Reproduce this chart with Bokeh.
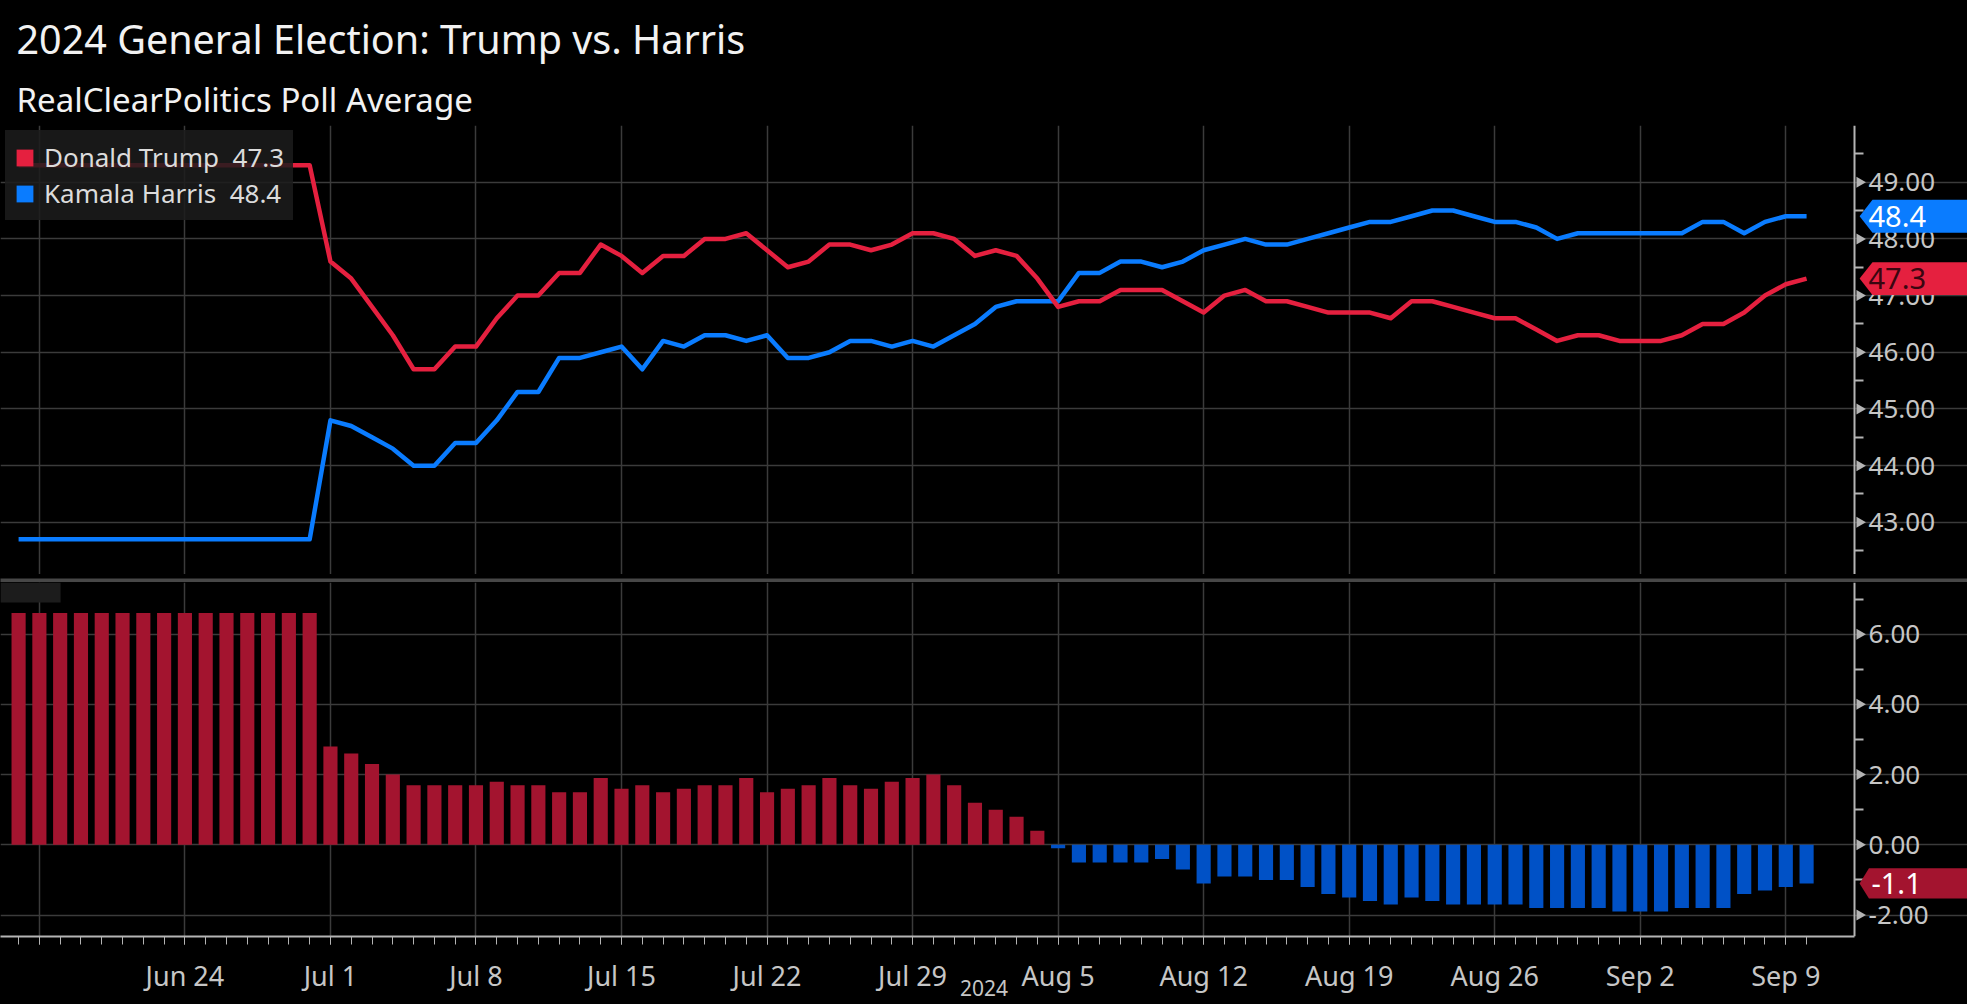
import math
import pandas as pd
from bokeh.plotting import figure
from bokeh.layouts import column
from bokeh.models import (FixedTicker, NumeralTickFormatter, Range1d, Legend, LegendItem,
                          Label, PolyAnnotation, BoxAnnotation, Title, ColumnDataSource)
from bokeh.embed import file_html
from bokeh.resources import INLINE

# ---------------- data ----------------
start_date = "2024-06-16"
end_date = "2024-09-10"
dates = pd.date_range(start_date, end_date, freq="D")

trump = ([49.3] * 15 +
         [47.6, 47.3, 46.8, 46.3, 45.7, 45.7, 46.1, 46.1, 46.6, 47.0, 47.0, 47.4, 47.4, 47.9, 47.7, 47.4,
          47.7, 47.7, 48.0, 48.0, 48.1, 47.8, 47.5, 47.6, 47.9, 47.9, 47.8, 47.9, 48.1, 48.1, 48.0] +
         [47.7, 47.8, 47.7, 47.3, 46.8, 46.9, 46.9, 47.1, 47.1, 47.1, 46.9, 46.7, 47.0, 47.1, 46.9, 46.9,
          46.8, 46.7, 46.7, 46.7, 46.6, 46.9, 46.9, 46.8, 46.7, 46.6, 46.6, 46.4, 46.2, 46.3, 46.3] +
         [46.2, 46.2, 46.2, 46.3, 46.5, 46.5, 46.7, 47.0, 47.2, 47.3])

harris = ([42.7] * 15 +
          [44.8, 44.7, 44.5, 44.3, 44.0, 44.0, 44.4, 44.4, 44.8, 45.3, 45.3, 45.9, 45.9, 46.0, 46.1, 45.7,
           46.2, 46.1, 46.3, 46.3, 46.2, 46.3, 45.9, 45.9, 46.0, 46.2, 46.2, 46.1, 46.2, 46.1, 46.3] +
          [46.5, 46.8, 46.9, 46.9, 46.9, 47.4, 47.4, 47.6, 47.6, 47.5, 47.6, 47.8, 47.9, 48.0, 47.9, 47.9,
           48.0, 48.1, 48.2, 48.3, 48.3, 48.4, 48.5, 48.5, 48.4, 48.3, 48.3, 48.2, 48.0, 48.1, 48.1] +
          [48.1, 48.1, 48.1, 48.1, 48.3, 48.3, 48.1, 48.3, 48.4, 48.4])

week_ticks = ["2024-06-17", "2024-06-24", "2024-07-01", "2024-07-08", "2024-07-15", "2024-07-22",
              "2024-07-29", "2024-08-05", "2024-08-12", "2024-08-19", "2024-08-26", "2024-09-02",
              "2024-09-09"]
week_labels = ["", "Jun 24", "Jul 1", "Jul 8", "Jul 15", "Jul 22", "Jul 29", "Aug 5", "Aug 12",
               "Aug 19", "Aug 26", "Sep 2", "Sep 9"]
year_label = "2024"

top_ticks = [43, 44, 45, 46, 47, 48, 49]
top_minor = [42.5, 43.5, 44.5, 45.5, 46.5, 47.5, 48.5, 49.5]
bottom_ticks = [-2, 0, 2, 4, 6]
bottom_minor = [-1, 1, 3, 5, 7]

trump_name = "Donald Trump"
harris_name = "Kamala Harris"

# ---------------- derived ----------------
x_idx = [(d - dates[0]).days for d in dates]
week_idx = [(pd.Timestamp(w) - dates[0]).days for w in week_ticks]
spread = [round(t - h, 1) for t, h in zip(trump, harris)]

RED_LINE = "#e5203f"
BLUE_LINE = "#0a7cff"
RED_BAR = "#a3142f"
BLUE_BAR = "#0051c6"
GRID = "#3b3b3b"
AXIS = "#b4b4b4"
LABEL = "#c6c6c6"
FONT = "Noto Sans"

bar_colors = [RED_BAR if s >= 0 else BLUE_BAR for s in spread]
src = ColumnDataSource(dict(x=x_idx, trump=trump, harris=harris, spread=spread, color=bar_colors))

W = 1967
X0, X1 = -0.87, 93.74      # visible day span of the frame
AX = 88.31                  # where the right value axis sits
x_range = Range1d(X0, X1)


def style(p, yticks, yminor):
    p.background_fill_color = "black"
    p.border_fill_color = "black"
    p.outline_line_color = None
    p.xgrid.ticker = FixedTicker(ticks=week_idx)
    p.ygrid.ticker = FixedTicker(ticks=yticks)
    p.ygrid.bounds = (X0, AX)
    p.grid.grid_line_color = GRID
    p.grid.grid_line_width = 1.5
    ax = p.yaxis[0]
    ax.fixed_location = AX
    ax.ticker = FixedTicker(ticks=yticks, minor_ticks=yminor)
    ax.formatter = NumeralTickFormatter(format="0.00")
    ax.axis_line_color = AXIS
    ax.axis_line_width = 2
    ax.major_tick_line_color = None
    ax.major_tick_out = 10
    ax.major_tick_in = 0
    ax.minor_tick_line_color = AXIS
    ax.minor_tick_line_width = 2
    ax.minor_tick_out = 9
    ax.minor_tick_in = 0
    ax.major_label_text_font = FONT
    ax.major_label_text_font_size = "26px"
    ax.major_label_text_color = LABEL
    ax.major_label_standoff = 4
    # triangular tick markers on the value axis
    p.scatter(x=[AX + 0.24] * len(yticks), y=yticks, marker="triangle", angle=-math.pi / 2,
              size=11, fill_color=AXIS, line_alpha=0)


def tag(p, value, half_h, fill, text, text_color, box_left, text_x):
    xs = [88.55, box_left, X1, X1, box_left]
    ys = [value, value + half_h, value + half_h, value - half_h, value - half_h]
    p.add_layout(PolyAnnotation(xs=xs, ys=ys, fill_color=fill, fill_alpha=1.0, line_alpha=0))
    p.add_layout(Label(x=text_x, y=value, text=text, text_baseline="middle", text_align="left",
                       text_color=text_color, text_font=FONT, text_font_size="29px"))


# ---------------- top panel ----------------
top = figure(width=W, height=574, x_range=x_range, y_range=Range1d(42.08, 50.0),
             output_backend="svg", toolbar_location=None, y_axis_location="right",
             x_axis_location=None, min_border_left=0, min_border_right=0,
             min_border_top=125, min_border_bottom=0)
style(top, top_ticks, top_minor)

top.line("x", "harris", source=src, line_color=BLUE_LINE, line_width=4.5, line_join="round")
top.line("x", "trump", source=src, line_color=RED_LINE, line_width=4.5, line_join="round")

# zero-area swatches used only for the legend glyphs
r_t = top.quad(left=[x_idx[-1]], right=[x_idx[-1]], top=[trump[-1]], bottom=[trump[-1]],
               fill_color=RED_LINE, line_alpha=0)
r_h = top.quad(left=[x_idx[-1]], right=[x_idx[-1]], top=[harris[-1]], bottom=[harris[-1]],
               fill_color=BLUE_LINE, line_alpha=0)
legend = Legend(items=[LegendItem(label=f"{trump_name}  {trump[-1]:.1f}", renderers=[r_t]),
                       LegendItem(label=f"{harris_name}  {harris[-1]:.1f}", renderers=[r_h])],
                location="top_left", background_fill_color="#1c1c1c", background_fill_alpha=0.85,
                border_line_alpha=0, label_text_color="#dcdcdc", label_text_font=FONT,
                label_text_font_size="26px", glyph_width=21, glyph_height=21, padding=9,
                spacing=0, margin=5, label_standoff=9, label_height=28)
top.add_layout(legend, "center")

tag(top, harris[-1], 0.29, BLUE_LINE, f"{harris[-1]:.1f}", "white", 89.17, 88.98)
tag(top, trump[-1], 0.29, RED_LINE, f"{trump[-1]:.1f}", "#3a0610", 89.17, 88.98)

top.add_layout(Title(text="RealClearPolitics Poll Average", text_font=FONT, text_font_size="33px",
                     text_font_style="normal", text_color="#f2f2f2", align="left", offset=16,
                     standoff=8), "above")
top.add_layout(Title(text="2024 General Election: Trump vs. Harris", text_font=FONT,
                     text_font_size="39.5px", text_font_style="normal", text_color="#f2f2f2",
                     align="left", offset=16, standoff=10), "above")

# ---------------- separator ----------------
sep = figure(width=W, height=8, x_range=x_range, output_backend="svg", toolbar_location=None,
             x_axis_location=None, y_axis_location=None, min_border=0,
             background_fill_color="#474747", border_fill_color="#474747", outline_line_color=None)
sep.grid.visible = False

# ---------------- bottom panel ----------------
bot = figure(width=W, height=422, x_range=x_range, y_range=Range1d(-2.61, 7.47),
             output_backend="svg", toolbar_location=None, y_axis_location="right",
             min_border_left=0, min_border_right=0, min_border_top=0, min_border_bottom=68)
style(bot, bottom_ticks, bottom_minor)
bot.vbar(x="x", top="spread", width=0.68, source=src, fill_color="color", line_alpha=0)

xa = bot.xaxis[0]
xa.bounds = (X0, AX)
xa.ticker = FixedTicker(ticks=week_idx, minor_ticks=x_idx)
xa.major_label_overrides = {i: l for i, l in zip(week_idx, week_labels)}
xa.axis_line_color = AXIS
xa.axis_line_width = 2
xa.major_tick_line_color = AXIS
xa.major_tick_out = 8
xa.major_tick_in = 0
xa.minor_tick_line_color = AXIS
xa.minor_tick_out = 8
xa.minor_tick_in = 0
xa.major_label_text_font = FONT
xa.major_label_text_font_size = "27px"
xa.major_label_text_color = LABEL
xa.major_label_standoff = 12
xa.axis_label = year_label
xa.axis_label_text_font = FONT
xa.axis_label_text_font_size = "21px"
xa.axis_label_text_font_style = "normal"
xa.axis_label_text_color = LABEL
xa.axis_label_standoff = -17

bot.add_layout(BoxAnnotation(left=X0, right=2.02, bottom=6.9, top=7.47,
                             fill_color="#1c1c1c", fill_alpha=1.0, line_alpha=0))
tag(bot, spread[-1], 0.43, RED_BAR, f"{spread[-1]:.1f}", "white", 89.0, 89.12)

layout = column(top, sep, bot, spacing=0)
html = file_html(layout, INLINE)
html = html.replace("<body>", "<body style=\"background:black;\">")
open("out.html", "w").write(html)
